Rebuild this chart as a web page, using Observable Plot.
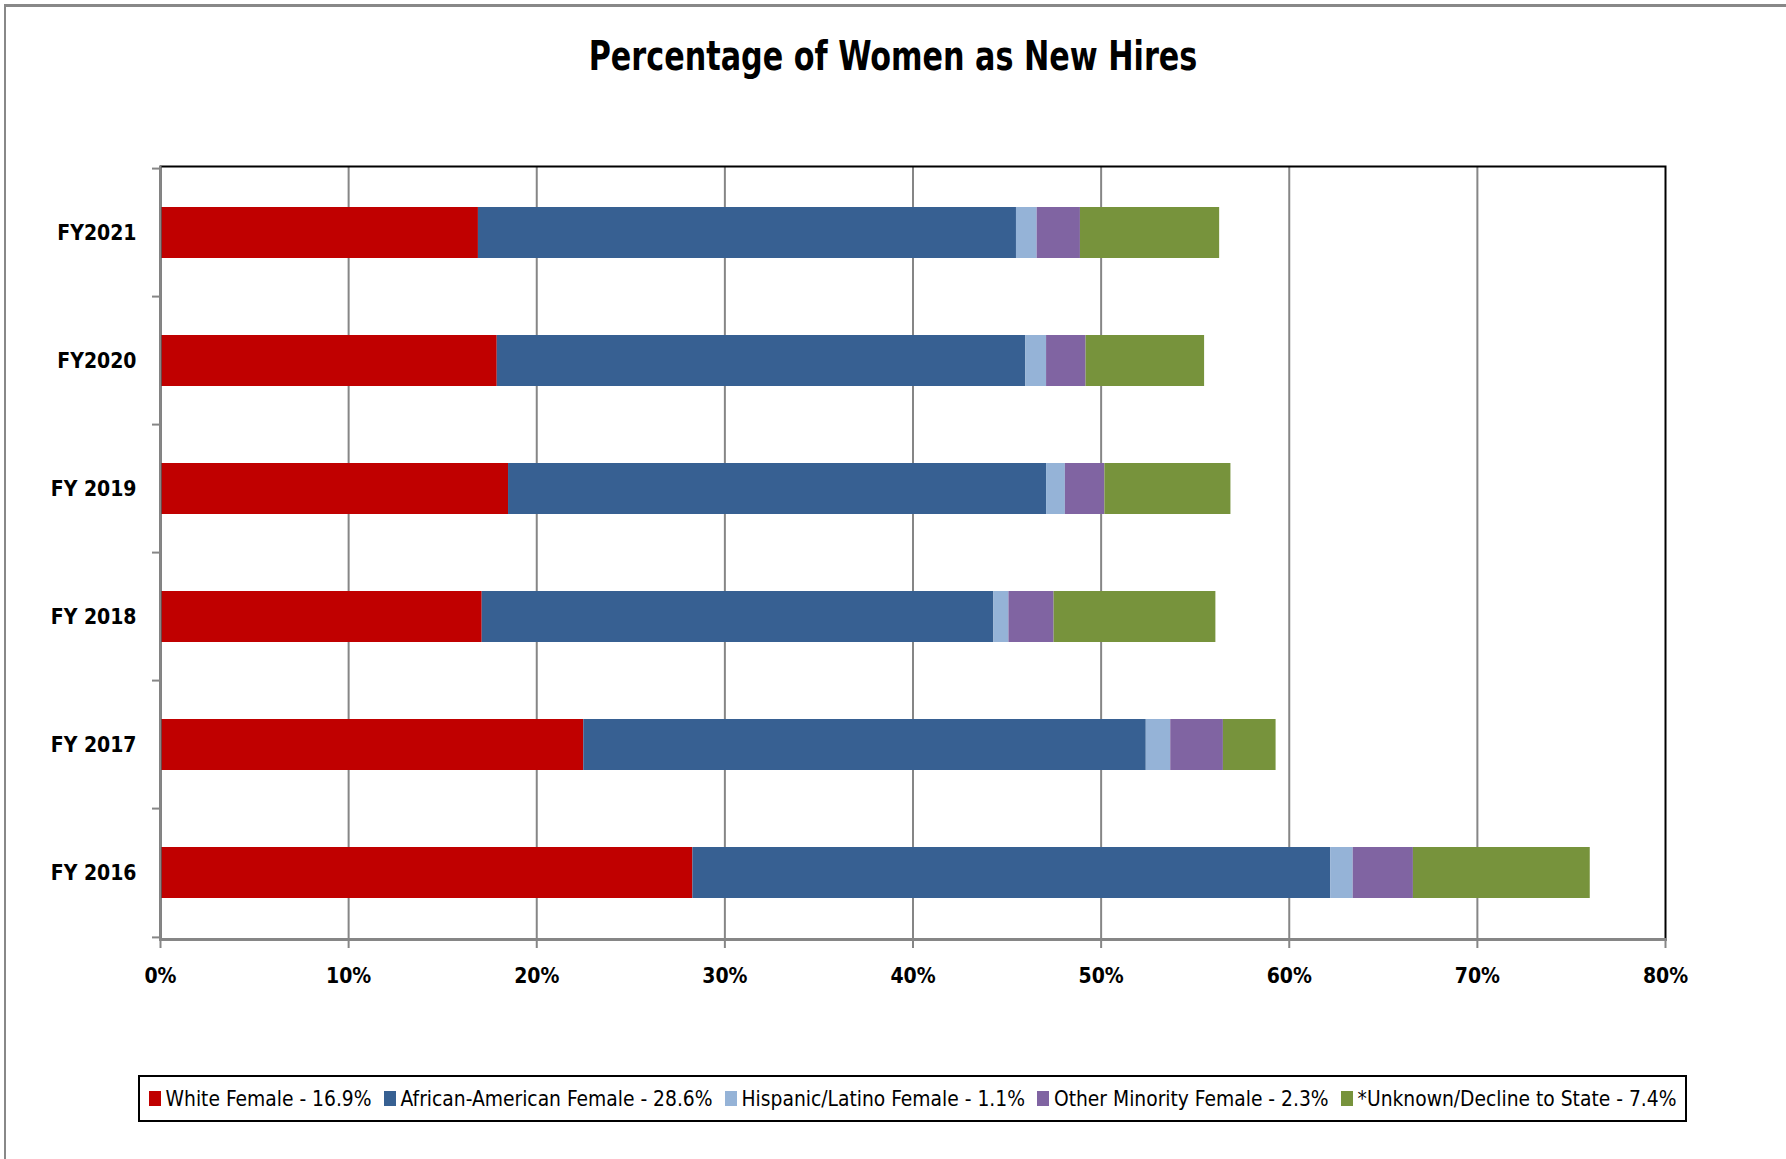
<!DOCTYPE html>
<html><head><meta charset="utf-8">
<script src="https://cdn.jsdelivr.net/npm/d3@7"></script>
<script src="https://cdn.jsdelivr.net/npm/@observablehq/plot@0.6"></script>
<style>
body{margin:0;background:#fff;}
#wrap{position:relative;width:1786px;height:1159px;overflow:hidden;background:#fff;font-family:"DejaVu Sans Condensed","DejaVu Sans",sans-serif;font-stretch:condensed;}
#border{position:absolute;left:4px;top:4px;width:1800px;height:1200px;border-left:2px solid #888;border-top:3px solid #888;z-index:5;pointer-events:none;}
#title{position:absolute;top:36px;left:0;width:1786px;text-align:center;font-weight:bold;font-size:40px;line-height:1;transform:scaleX(0.84);transform-origin:893px 0;}
#chart{position:absolute;left:0;top:120px;}
#legend{position:absolute;left:138px;top:1075px;width:1549px;height:47px;box-sizing:border-box;border:2px solid #000;display:flex;align-items:center;justify-content:center;font-size:20.8px;gap:12px;}
.item{display:flex;align-items:center;white-space:nowrap;}
.sw{display:inline-block;width:12px;height:15px;margin-right:5px;}
</style>
</head><body>
<div id="wrap">
<div id="border"></div>
<div id="title">Percentage of Women as New Hires</div>
<div id="chart"></div>
<div id="legend"></div>
</div>
<script>
const years = ["FY2021","FY2020","FY 2019","FY 2018","FY 2017","FY 2016"];
const seriesNames = ["White Female","African-American Female","Hispanic/Latino Female","Other Minority Female","*Unknown/Decline to State"];
const white =           [16.9, 17.9, 18.5, 17.1, 22.5, 28.3];
const africanAmerican = [28.6, 28.1, 28.6, 27.2, 29.9, 33.9];
const hispanic =        [1.1, 1.1, 1.0, 0.8, 1.3, 1.2];
const otherMinority =   [2.3, 2.1, 2.1, 2.4, 2.8, 3.2];
const unknown =         [7.4, 6.3, 6.7, 8.6, 2.8, 9.4];
const colors = ["#C00000","#376092","#95B3D7","#8064A2","#77933C"];
const legendLabels = ["White Female - 16.9%","African-American Female - 28.6%","Hispanic/Latino Female - 1.1%","Other Minority Female - 2.3%","*Unknown/Decline to State - 7.4%"];
const xTicks = [0,10,20,30,40,50,60,70,80];

const seriesValues = [white, africanAmerican, hispanic, otherMinority, unknown];
const data = years.flatMap((y,i)=> seriesNames.map((s,j)=>({year:y, series:s, value:seriesValues[j][i]})));

const W=1786, H=880, mT=46, mB=61, mL=160, mR=121;
const step = (H-mT-mB)/years.length;
const font = '"DejaVu Sans Condensed","DejaVu Sans",sans-serif';

const chart = Plot.plot({
  width:W, height:H, marginTop:mT, marginBottom:mB, marginLeft:mL, marginRight:mR,
  style:{fontFamily:font, fontStretch:"condensed", background:"transparent", color:"black"},
  x:{domain:[0,80]},
  y:{domain:years, paddingInner:0.6, paddingOuter:0.3},
  color:{domain:seriesNames, range:colors},
  marks:[
    Plot.ruleX(xTicks.slice(1,-1), {stroke:"#868686", strokeWidth:2}),
    Plot.barX(data, Plot.stackX({x:"value", y:"year", fill:"series", order:seriesNames})),
    Plot.frame({stroke:"#000", strokeWidth:2}),
    Plot.ruleX([0], {stroke:"#868686", strokeWidth:2}),
    Plot.frame({anchor:"bottom", stroke:"#868686", strokeWidth:3}),
    Plot.axisX({ticks:xTicks, tickSize:9, tickPadding:20, tickFormat:d=>d+"%", fontSize:21, fontWeight:"bold", stroke:"#868686", fill:"#000", strokeWidth:2, label:null}),
    Plot.axisY({tickSize:0, tickPadding:24, fontSize:21, fontWeight:"bold", fill:"#000", label:null}),
    Plot.axisY({tickSize:8, tickFormat:()=>"", dy:-step/2, stroke:"#868686", strokeWidth:2, label:null}),
    Plot.axisY({ticks:[years[years.length-1]], tickSize:8, tickFormat:()=>"", dy:step/2, stroke:"#868686", strokeWidth:2, label:null})
  ]
});
document.getElementById("chart").appendChild(chart);

const leg = document.getElementById("legend");
legendLabels.forEach((t,i)=>{
  const it = document.createElement("span"); it.className="item";
  const sw = document.createElement("span"); sw.className="sw"; sw.style.background=colors[i];
  it.appendChild(sw); it.appendChild(document.createTextNode(t));
  leg.appendChild(it);
});
</script>
</body></html>
